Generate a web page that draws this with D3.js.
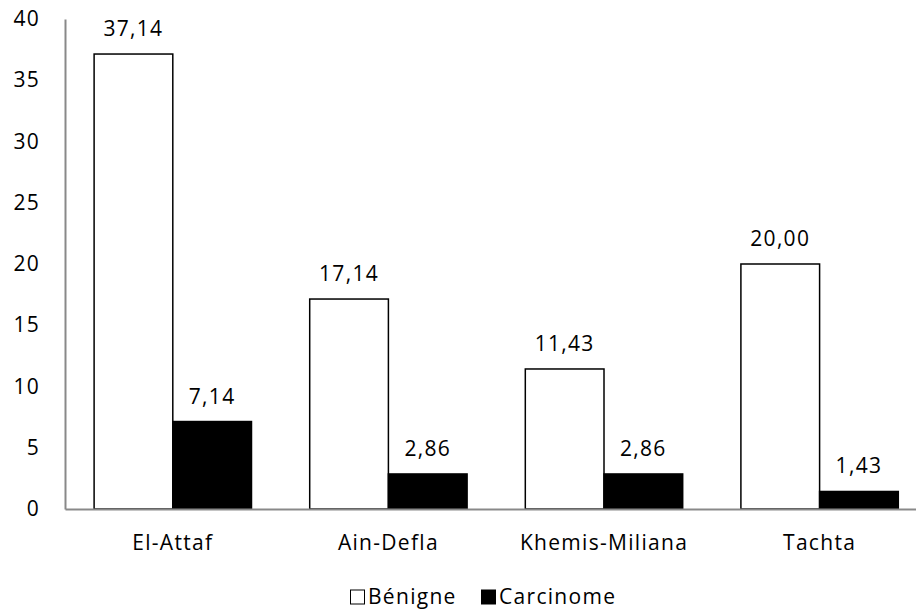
<!DOCTYPE html>
<html>
<head>
<meta charset="utf-8">
<script src="https://cdn.jsdelivr.net/npm/d3@7"></script>
<style>
  body { margin: 0; background: #fff; }
  text { font-family: "Open Sans", sans-serif; fill: #000; }
</style>
</head>
<body>
<script>
// chart data
const categories = ["El-Attaf", "Ain-Defla", "Khemis-Miliana", "Tachta"];
const benigne = [37.14, 17.14, 11.43, 20.00];
const carcinome = [7.14, 2.86, 2.86, 1.43];
const seriesNames = ["Bénigne", "Carcinome"];
const yTicks = [0, 5, 10, 15, 20, 25, 30, 35, 40];

const width = 916, height = 611;
const margin = { top: 19, left: 65, bottom: 102 };
const plotRight = 927.4;
const fontSize = "21px", spacing = "1.3px";

const svg = d3.select("body").append("svg")
  .attr("width", width)
  .attr("height", height);

const x = d3.scaleBand()
  .domain(categories)
  .range([margin.left, plotRight])
  .paddingInner(0.27)
  .paddingOuter(0.135);

const xs = d3.scaleBand()
  .domain(seriesNames)
  .range([0, x.bandwidth()]);

const y = d3.scaleLinear()
  .domain([0, 40])
  .range([height - margin.bottom, margin.top]);

// y axis labels, no ticks
const yAxis = svg.append("g")
  .attr("transform", "translate(" + margin.left + ",0)")
  .call(d3.axisLeft(y).tickValues(yTicks).tickSize(0).tickPadding(25));
yAxis.select(".domain").attr("stroke", "#898989").attr("stroke-width", 2);
yAxis.selectAll("text")
  .style("font-family", "Open Sans")
  .style("font-size", fontSize)
  .style("letter-spacing", spacing)
  .attr("fill", "#000");

const rows = categories.map((c, i) => ({ cat: c, vals: [benigne[i], carcinome[i]] }));

const groups = svg.selectAll(".grp")
  .data(rows)
  .enter()
  .append("g")
  .attr("transform", d => "translate(" + x(d.cat) + ",0)");

groups.selectAll("rect")
  .data(d => d.vals.map((v, j) => ({ name: seriesNames[j], v: v })))
  .enter()
  .append("rect")
  .attr("x", d => xs(d.name))
  .attr("width", xs.bandwidth())
  .attr("y", d => y(d.v))
  .attr("height", d => y(0) - y(d.v))
  .attr("fill", d => d.name == "Bénigne" ? "#fff" : "#000")
  .attr("stroke", "#000")
  .attr("stroke-width", 1.5);

groups.selectAll(".lbl")
  .data(d => d.vals.map((v, j) => ({ name: seriesNames[j], v: v })))
  .enter()
  .append("text")
  .attr("x", d => xs(d.name) + xs.bandwidth() / 2)
  .attr("y", d => y(d.v) - 18)
  .attr("text-anchor", "middle")
  .style("font-size", fontSize)
  .style("letter-spacing", spacing)
  .text(d => d3.format(".2f")(d.v).replace(".", ","));

// x axis baseline + category labels
const xAxis = svg.append("g")
  .attr("transform", "translate(0," + y(0) + ")")
  .call(d3.axisBottom(x).tickSize(0).tickPadding(26));
xAxis.select(".domain").attr("stroke", "#898989").attr("stroke-width", 2);
xAxis.selectAll("text")
  .style("font-family", "Open Sans")
  .style("font-size", fontSize)
  .style("letter-spacing", spacing)
  .attr("fill", "#000");

// legend
const legend = svg.append("g").attr("transform", "translate(350,597)");
const items = [
  { name: seriesNames[0], x: 0, fill: "#fff" },
  { name: seriesNames[1], x: 131, fill: "#000" }
];
items.forEach(it => {
  legend.append("rect")
    .attr("x", it.x + 0.5)
    .attr("y", -7)
    .attr("width", 14)
    .attr("height", 14)
    .attr("fill", it.fill)
    .attr("stroke", "#000")
    .attr("stroke-width", 1);
  legend.append("text")
    .attr("x", it.x + 18)
    .attr("y", 7)
    .style("font-size", fontSize)
    .style("letter-spacing", spacing)
    .text(it.name);
});
</script>
</body>
</html>
